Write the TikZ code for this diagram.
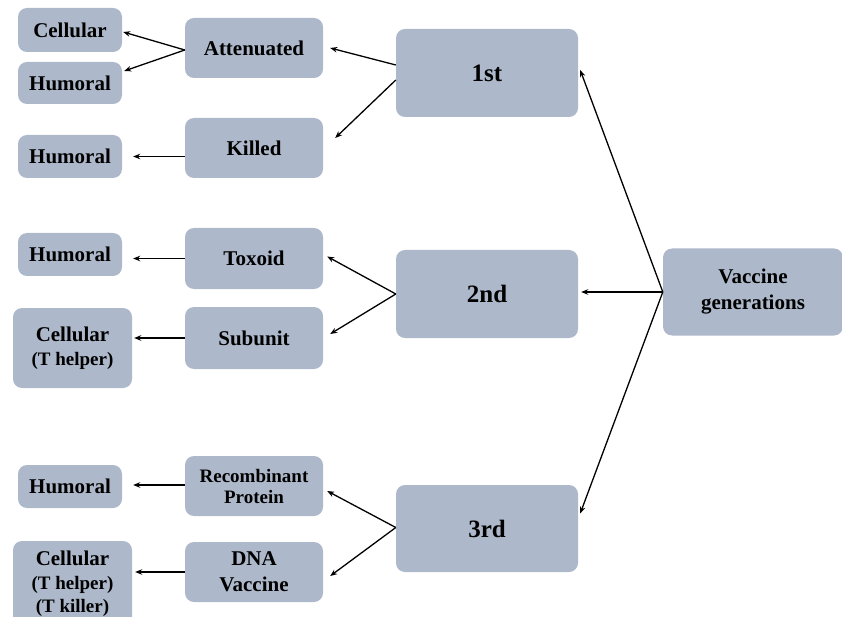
\documentclass[tikz,border=0pt]{standalone}
\usepackage{fontspec}
\setmainfont{Liberation Serif}
\usetikzlibrary{arrows.meta,calc}
\definecolor{boxfill}{HTML}{ADB9CA}
\tikzset{
  box/.style={fill=boxfill, draw=none, rounded corners=9pt, align=center, inner sep=0pt,
    font=\bfseries\fontsize{21}{26}\selectfont},
  bigbox/.style={box, font=\bfseries\fontsize{25}{28}\selectfont},
  smallbox/.style={box, font=\bfseries\fontsize{19}{21}\selectfont},
  conn/.style={line width=1.3pt, -{Stealth[length=7pt,width=5.5pt]}}
}
\newcommand{\subtxt}[1]{{\fontsize{19}{22}\selectfont #1}}
\begin{document}
\begin{tikzpicture}[x=1pt,y=-1pt]
\useasboundingbox (0,0) rectangle (842,617);
% level 0
\node[box, minimum width=180pt, minimum height=87pt] (vg) at (753,292) {Vaccine\\generations};
% generations
\node[bigbox, minimum width=182pt, minimum height=88pt] (first) at (487,73) {1st};
\node[bigbox, minimum width=182pt, minimum height=88pt] (second) at (487,294) {2nd};
\node[bigbox, minimum width=182pt, minimum height=87pt] (third) at (487,528.5) {3rd};
% types
\node[box, minimum width=138pt, minimum height=60pt] (att) at (254,48) {Attenuated};
\node[box, minimum width=138pt, minimum height=60pt] (kil) at (254,148) {Killed};
\node[box, minimum width=138pt, minimum height=61pt] (tox) at (254,258.5) {Toxoid};
\node[box, minimum width=138pt, minimum height=62pt] (sub) at (254,338) {Subunit};
\node[smallbox, minimum width=138pt, minimum height=60pt] (rec) at (254,486) {Recombinant\\Protein};
\node[box, minimum width=138pt, minimum height=60pt] (dna) at (254,572) {DNA\\Vaccine};
% responses
\node[box, minimum width=104pt, minimum height=44pt] (cel1) at (70,30) {Cellular};
\node[box, minimum width=104pt, minimum height=42pt] (hum1) at (70,83) {Humoral};
\node[box, minimum width=104pt, minimum height=43pt] (hum2) at (70,156.5) {Humoral};
\node[box, minimum width=104pt, minimum height=43pt] (hum3) at (70,254.5) {Humoral};
\node[box, minimum width=119pt, minimum height=80pt] (cel2) at (72.5,348) {Cellular\\[-2pt]\subtxt{(T helper)}};
\node[box, minimum width=104pt, minimum height=43pt] (hum4) at (70,486.5) {Humoral};
\node[box, minimum width=119pt, minimum height=86pt] (cel3) at (72.5,584) {Cellular\\[-2pt]\subtxt{(T helper)}\\[-3pt]\subtxt{(T killer)}};
% connectors
\draw[conn] (vg.west) -- ([xshift=2pt,yshift=3pt]first.east);
\draw[conn] (vg.west) -- ([xshift=3pt]second.east |- vg.west);
\draw[conn] (vg.west) -- ([xshift=2pt,yshift=15pt]third.east);
\draw[conn] ([yshift=8pt]first.west) -- ([xshift=7pt]att.east);
\draw[conn] ([yshift=-7pt]first.west) -- ([xshift=12pt,yshift=10pt]kil.east);
\draw[conn] (second.west) -- ([xshift=4pt,yshift=2pt]tox.east);
\draw[conn] (second.west) -- ([xshift=7pt,yshift=4pt]sub.east);
\draw[conn] ([yshift=1pt]third.west) -- ([xshift=4pt,yshift=-5pt]rec.east);
\draw[conn] ([yshift=1pt]third.west) -- ([xshift=7pt,yshift=-4pt]dna.east);
\draw[conn] ([yshift=-2pt]att.west) -- ([xshift=1pt,yshift=-2pt]cel1.east);
\draw[conn] ([yshift=-2pt]att.west) -- ([xshift=2pt,yshift=12pt]hum1.east);
\draw[conn] (kil.west |- hum2.east) -- ([xshift=11pt]hum2.east);
\draw[conn] (tox.west) -- ([xshift=11pt]hum3.east |- tox.west);
\draw[conn] (sub.west) -- ([xshift=2pt]cel2.east |- sub.west);
\draw[conn] ([yshift=1pt]rec.west) -- ([xshift=11pt,yshift=1pt]hum4.east |- rec.west);
\draw[conn] (dna.west) -- ([xshift=3pt]cel3.east |- dna.west);
\end{tikzpicture}
\end{document}
